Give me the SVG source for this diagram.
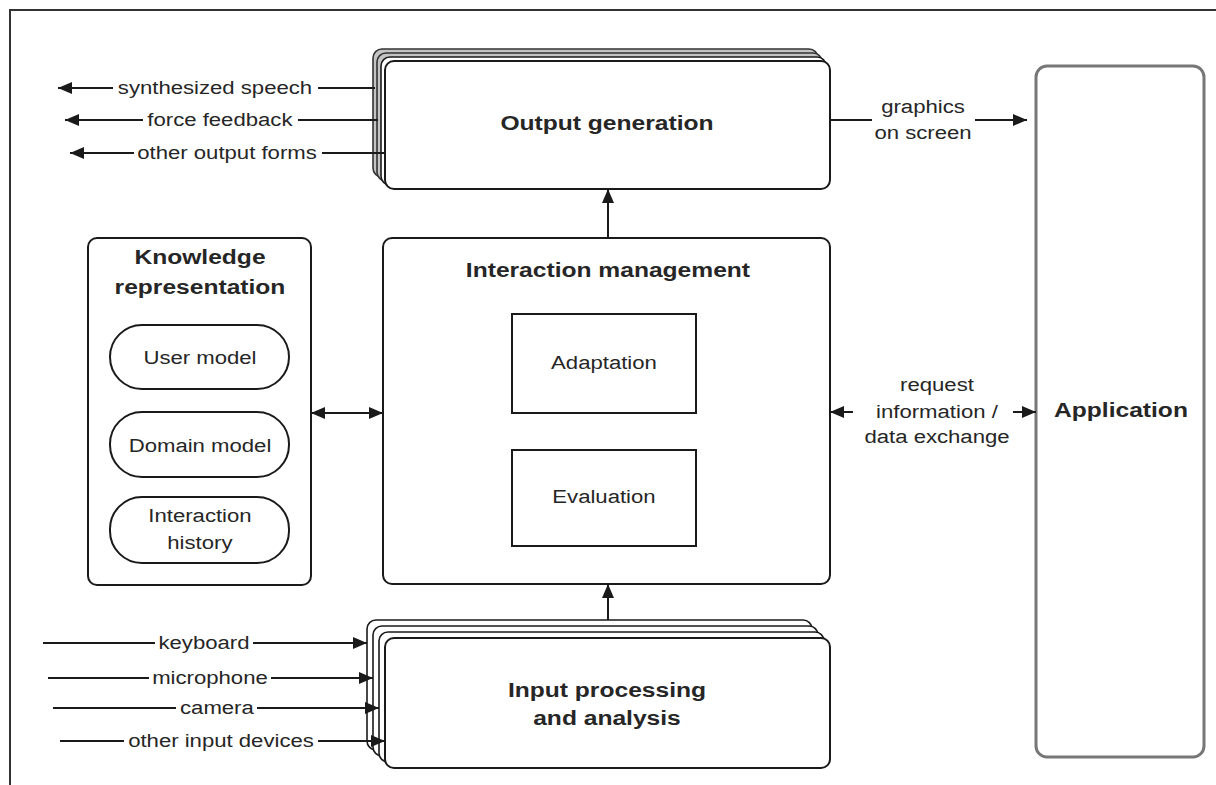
<svg xmlns="http://www.w3.org/2000/svg" width="1216" height="785" viewBox="0 0 1216 785">
<defs>
<style>
text{font-family:"Liberation Sans",Arial,sans-serif;fill:#262626;text-anchor:middle;transform-box:fill-box;transform-origin:center;transform:scaleX(1.23)}
.n{font-size:18px}
.b{font-size:20px;font-weight:bold}
.box{fill:#fff;stroke:#1a1a1a;stroke-width:2}
.back{fill:#fff;stroke:#1a1a1a;stroke-width:1.6}
.backg{fill:#c4c4c4;stroke:#333;stroke-width:1.6}
.sq{fill:#fff;stroke:#1a1a1a;stroke-width:2}
.app{fill:#fff;stroke:#777;stroke-width:3}
.ln{fill:none;stroke:#1a1a1a;stroke-width:2}
.ar{fill:none;stroke:#1a1a1a;stroke-width:2;marker-end:url(#ah)}
.ar2{fill:none;stroke:#1a1a1a;stroke-width:2;marker-start:url(#ah);marker-end:url(#ah)}
</style>
<marker id="ah" viewBox="0 0 14 12" refX="14" refY="6" markerWidth="14" markerHeight="12" markerUnits="userSpaceOnUse" orient="auto-start-reverse">
<path d="M0,0 L14,6 L0,12 z" fill="#1a1a1a"/>
</marker>
</defs>
<rect width="1216" height="785" fill="#fff"/>
<path d="M10,785 V10 H1216" fill="none" stroke="#333" stroke-width="2"/>

<g id="output-generation">
<rect class="backg" x="373" y="49" width="445" height="128" rx="9"/>
<rect class="backg" x="377" y="53" width="445" height="128" rx="9"/>
<rect class="back" x="381" y="57" width="445" height="128" rx="9"/>
<rect class="box" x="385" y="61" width="445" height="128" rx="9"/>
<text class="b" x="607" y="130">Output generation</text>
</g>

<g id="interaction-management">
<rect class="box" x="383" y="238" width="447" height="346" rx="9"/>
<text class="b" x="608" y="277">Interaction management</text>
</g>
<g id="adaptation">
<rect class="sq" x="512" y="314" width="184" height="99"/>
<text class="n" x="604" y="369">Adaptation</text>
</g>
<g id="evaluation">
<rect class="sq" x="512" y="450" width="184" height="96"/>
<text class="n" x="604" y="503">Evaluation</text>
</g>

<g id="knowledge-representation">
<rect class="box" x="88" y="238" width="223" height="347" rx="9"/>
<text class="b" x="200" y="264">Knowledge</text>
<text class="b" x="200" y="294">representation</text>
</g>
<g id="user-model">
<rect class="box" x="110" y="325" width="179" height="64" rx="32"/>
<text class="n" x="200" y="364">User model</text>
</g>
<g id="domain-model">
<rect class="box" x="110" y="412" width="179" height="65" rx="32"/>
<text class="n" x="200" y="452">Domain model</text>
</g>
<g id="interaction-history">
<rect class="box" x="110" y="497" width="179" height="66" rx="32"/>
<text class="n" x="200" y="522">Interaction</text>
<text class="n" x="200" y="549">history</text>
</g>

<g id="input-processing">
<rect class="back" x="367" y="620" width="445" height="130" rx="9"/>
<rect class="back" x="373" y="626" width="445" height="130" rx="9"/>
<rect class="back" x="379" y="632" width="445" height="130" rx="9"/>
<rect class="box" x="385" y="638" width="445" height="130" rx="9"/>
<text class="b" x="607" y="697">Input processing</text>
<text class="b" x="607" y="725">and analysis</text>
</g>

<g id="application">
<rect class="app" x="1036" y="66" width="168" height="691" rx="11"/>
<text class="b" x="1121" y="417">Application</text>
</g>

<g id="connectors">
<path class="ar" d="M608,238 V189"/>
<path class="ar" d="M608,620 V584"/>
<path class="ar2" d="M311,413 H383"/>
<path class="ln" d="M375,88 H318"/><path class="ar" d="M113,88 H58"/>
<path class="ln" d="M378,120 H298"/><path class="ar" d="M143,120 H65"/>
<path class="ln" d="M384,153 H322"/><path class="ar" d="M134,153 H70"/>
<path class="ln" d="M830,120 H872"/><path class="ar" d="M975,120 H1027"/>
<path class="ar" d="M853,412 H830"/><path class="ar" d="M1013,412 H1036"/>
<path class="ln" d="M43,643 H155"/><path class="ar" d="M253,643 H367"/>
<path class="ln" d="M48,678 H149"/><path class="ar" d="M271,678 H373"/>
<path class="ln" d="M53,708 H176"/><path class="ar" d="M257,708 H379"/>
<path class="ln" d="M60,741 H124"/><path class="ar" d="M318,741 H385"/>
</g>

<g id="labels">
<text class="n" x="215" y="94">synthesized speech</text>
<text class="n" x="220" y="126">force feedback</text>
<text class="n" x="227" y="159">other output forms</text>
<text class="n" x="923" y="113">graphics</text>
<text class="n" x="923" y="139">on screen</text>
<text class="n" x="937" y="391">request</text>
<text class="n" x="937" y="418">information /</text>
<text class="n" x="937" y="443">data exchange</text>
<text class="n" x="204" y="649">keyboard</text>
<text class="n" x="210" y="684">microphone</text>
<text class="n" x="217" y="714">camera</text>
<text class="n" x="221" y="747">other input devices</text>
</g>
</svg>
